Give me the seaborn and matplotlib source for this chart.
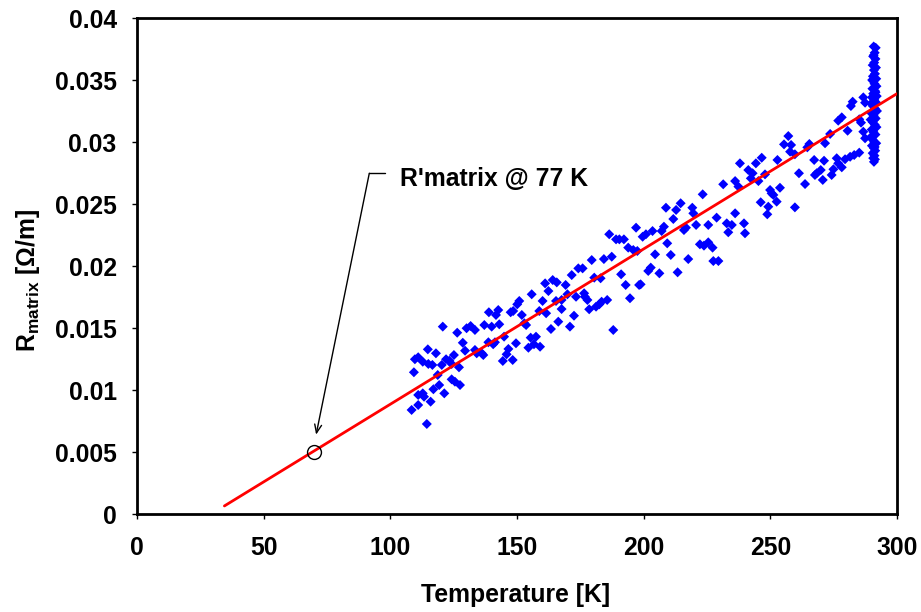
import matplotlib
matplotlib.use("Agg")
import matplotlib.pyplot as plt
import seaborn as sns
import pandas as pd

# ---- data (temperature [K], R_matrix [Ohm/m]) ----
band_108_135 = [
    (120.7, 0.01511), (126.4, 0.01462), (130.1, 0.01498), (131.7, 0.01516), (133.4, 0.01484),
    (128.6, 0.01381), (114.8, 0.01328), (118.0, 0.01296), (129.5, 0.01317), (133.4, 0.01323),
    (134.1, 0.01296), (125.1, 0.01282), (109.7, 0.01248), (111.0, 0.01264), (112.8, 0.01228),
    (115.0, 0.01210), (116.6, 0.01202), (120.3, 0.01202), (122.0, 0.01248), (123.3, 0.01236),
    (124.2, 0.01210), (127.1, 0.01183), (109.3, 0.01143), (118.7, 0.01121), (124.2, 0.01086),
    (125.5, 0.01067), (127.5, 0.01040), (119.3, 0.01040), (117.0, 0.01006), (121.3, 0.00973),
    (111.0, 0.00960), (112.8, 0.00973), (113.3, 0.00946), (115.9, 0.00906), (111.0, 0.00879),
    (108.4, 0.00839), (114.4, 0.00726),
]
band_135_167 = [
    (161.1, 0.01860), (164.1, 0.01887), (165.7, 0.01868), (162.4, 0.01798), (155.8, 0.01772),
    (150.9, 0.01718), (150.1, 0.01691), (160.1, 0.01718), (165.4, 0.01718), (142.6, 0.01645),
    (141.7, 0.01605), (138.9, 0.01627), (147.5, 0.01627), (148.5, 0.01637), (151.9, 0.01605),
    (158.8, 0.01637), (161.5, 0.01619), (137.1, 0.01524), (140.0, 0.01511), (143.0, 0.01530),
    (152.9, 0.01538), (153.6, 0.01524), (166.3, 0.01551), (163.4, 0.01492), (144.9, 0.01430),
    (155.4, 0.01422), (157.5, 0.01430), (138.7, 0.01385), (140.6, 0.01369), (141.3, 0.01385),
    (149.6, 0.01377), (156.7, 0.01369), (154.5, 0.01341), (159.1, 0.01349), (136.1, 0.01296),
    (136.7, 0.01282), (146.6, 0.01331), (145.9, 0.01288), (144.4, 0.01234), (148.3, 0.01242),
]
band_167_198 = [
    (186.4, 0.02256), (197.0, 0.02309), (189.1, 0.02215), (190.4, 0.02215), (192.2, 0.02215),
    (193.9, 0.02148), (195.9, 0.02129), (197.5, 0.02121), (179.5, 0.02048), (184.3, 0.02056),
    (187.4, 0.02075), (174.2, 0.01981), (175.9, 0.01981), (171.6, 0.01927), (180.5, 0.01906),
    (183.0, 0.01901), (191.1, 0.01933), (169.2, 0.01847), (192.9, 0.01847), (198.2, 0.01847),
    (169.9, 0.01772), (173.3, 0.01752), (176.5, 0.01780), (176.8, 0.01752), (177.8, 0.01726),
    (194.6, 0.01740), (167.6, 0.01726), (185.6, 0.01726), (183.4, 0.01712), (182.5, 0.01691),
    (181.2, 0.01672), (167.6, 0.01653), (178.5, 0.01651), (172.5, 0.01599), (170.9, 0.01511),
    (188.0, 0.01484),
]
band_198_230 = [
    (223.3, 0.02578), (214.6, 0.02506), (208.8, 0.02470), (212.8, 0.02452), (219.2, 0.02470),
    (219.6, 0.02425), (211.7, 0.02379), (228.8, 0.02390), (220.7, 0.02331), (225.5, 0.02331),
    (208.0, 0.02317), (207.1, 0.02282), (203.5, 0.02282), (216.7, 0.02309), (215.9, 0.02290),
    (200.9, 0.02256), (199.6, 0.02236), (209.3, 0.02183), (222.2, 0.02175), (223.8, 0.02164),
    (225.5, 0.02191), (227.2, 0.02148), (204.5, 0.02094), (210.7, 0.02089), (217.6, 0.02056),
    (227.5, 0.02040), (229.5, 0.02040), (202.8, 0.01987), (201.8, 0.01960), (206.2, 0.01941),
    (213.4, 0.01949), (198.8, 0.01852),
]
band_230_262 = [
    (257.1, 0.03048), (255.4, 0.02981), (258.2, 0.02976), (257.8, 0.02922), (259.7, 0.02901),
    (246.6, 0.02873), (252.8, 0.02855), (238.0, 0.02828), (244.3, 0.02828), (241.3, 0.02774),
    (243.0, 0.02748), (247.9, 0.02739), (261.3, 0.02748), (242.3, 0.02707), (245.3, 0.02685),
    (236.1, 0.02685), (231.4, 0.02659), (237.4, 0.02640), (253.8, 0.02631), (249.9, 0.02613),
    (250.5, 0.02586), (251.2, 0.02573), (252.5, 0.02519), (246.2, 0.02514), (249.2, 0.02478),
    (248.8, 0.02417), (259.7, 0.02473), (236.1, 0.02425), (232.8, 0.02344), (234.8, 0.02331),
    (239.6, 0.02344), (233.4, 0.02272), (240.0, 0.02264),
]
band_262_288 = [
    (286.7, 0.03360), (287.4, 0.03317), (282.5, 0.03325), (281.8, 0.03290), (278.2, 0.03199),
    (276.8, 0.03172), (285.1, 0.03183), (285.8, 0.03156), (280.5, 0.03091), (273.6, 0.03065),
    (265.4, 0.02984), (264.6, 0.02957), (271.6, 0.02990), (286.7, 0.03083), (287.4, 0.03030),
    (267.3, 0.02855), (271.2, 0.02849), (276.2, 0.02869), (276.8, 0.02828), (279.5, 0.02861),
    (281.5, 0.02881), (283.1, 0.02895), (285.1, 0.02914), (269.9, 0.02774), (268.3, 0.02748),
    (267.6, 0.02734), (274.9, 0.02780), (274.2, 0.02734), (278.2, 0.02796), (263.7, 0.02661),
    (270.7, 0.02694),
]
room_temp_cluster = [
    (290.8, 0.0377), (291.6, 0.0376), (291.2, 0.0372), (290.6, 0.0369), (291.5, 0.0367),
    (291.0, 0.0364), (290.4, 0.0362), (291.7, 0.0360), (290.9, 0.0358), (291.3, 0.0355),
    (290.5, 0.0353), (291.8, 0.0351), (290.7, 0.0349), (291.1, 0.0347), (291.9, 0.0345),
    (290.3, 0.0343), (291.4, 0.0341), (290.6, 0.0339), (292.0, 0.0337), (290.1, 0.0336),
    (291.0, 0.0334), (291.7, 0.0332), (289.8, 0.0331), (290.5, 0.0329), (291.3, 0.0327),
    (292.1, 0.0325), (290.0, 0.0323), (290.8, 0.0321), (291.6, 0.0319), (289.6, 0.0318),
    (290.4, 0.0316), (291.2, 0.0314), (291.9, 0.0312), (290.0, 0.0310), (290.7, 0.0308),
    (291.5, 0.0306), (289.7, 0.0304), (290.3, 0.0302), (291.0, 0.0300), (291.8, 0.0299),
    (290.1, 0.0297), (290.9, 0.0295), (291.4, 0.0293), (290.4, 0.0291), (291.1, 0.0289),
    (290.6, 0.0287), (291.3, 0.0286), (290.9, 0.0284), (291.0, 0.0330), (290.2, 0.0350),
    (291.5, 0.0340), (290.6, 0.0310), (291.2, 0.0296), (290.8, 0.0370), (291.0, 0.0318),
]

fit_T = [34.5, 300.0]
fit_R = [0.00065, 0.0339]

marker_T = [70.0]
marker_R = [0.00502]

annotation_text = "R'matrix @ 77 K"
x_ticks = [0, 50, 100, 150, 200, 250, 300]
x_ticklabels = ["0", "50", "100", "150", "200", "250", "300"]
y_ticks = [0, 0.005, 0.01, 0.015, 0.02, 0.025, 0.03, 0.035, 0.04]
y_ticklabels = ["0", "0.005", "0.01", "0.015", "0.02", "0.025", "0.03", "0.035", "0.04"]

# ---- style ----
sns.set_style("white")
plt.rcParams["font.family"] = ["Liberation Sans", "DejaVu Sans"]
plt.rcParams["font.weight"] = "bold"
plt.rcParams["text.color"] = "black"
plt.rcParams["mathtext.fontset"] = "custom"
plt.rcParams["mathtext.rm"] = "Liberation Sans:bold"
plt.rcParams["mathtext.bf"] = "Liberation Sans:bold"
plt.rcParams["mathtext.it"] = "Liberation Sans:bold"

FS = 17.8

fig = plt.figure(figsize=(9.21, 6.12), dpi=100)
ax = fig.add_axes([137 / 921, 98 / 612, 760 / 921, 496 / 612])

all_points = (band_108_135 + band_135_167 + band_167_198 + band_198_230
              + band_230_262 + band_262_288 + room_temp_cluster)
df = pd.DataFrame(all_points, columns=["T", "R"])

sns.scatterplot(data=df, x="T", y="R", marker="D", s=26, color="#0000ff",
                edgecolor="none", linewidth=0, ax=ax, zorder=3)
sns.lineplot(x=fit_T, y=fit_R, color="#ff0000", linewidth=2, ax=ax, zorder=4)
ax.plot(marker_T, marker_R, marker="o", linestyle="none", markerfacecolor="none",
        markeredgecolor="black", markersize=10, markeredgewidth=1, zorder=5)

# annotation leader
ax.plot([97.9, 91.7], [0.02748, 0.02748], color="black", linewidth=1, zorder=5)
ax.annotate("", xy=(70.7, 0.0064), xytext=(91.7, 0.02748),
            arrowprops=dict(arrowstyle="->,head_length=0.6,head_width=0.25",
                            color="black", linewidth=1, shrinkA=0, shrinkB=0))
ax.text(103.8, 0.02702, annotation_text, fontsize=FS, fontweight="bold",
        ha="left", va="center", color="black")

ax.set_xlim(0, 300)
ax.set_ylim(0, 0.04)
ax.set_xticks(x_ticks)
ax.set_xticklabels(x_ticklabels)
ax.set_yticks(y_ticks)
ax.set_yticklabels(y_ticklabels)
ax.set_xlabel("")
ax.set_ylabel("")

ax.tick_params(axis="both", which="major", direction="out", length=3.6, width=1,
               color="black", labelsize=FS, labelcolor="black", bottom=True, left=True,
               top=False, right=False)
ax.tick_params(axis="x", pad=12)
ax.tick_params(axis="y", pad=11)
for lab in ax.get_xticklabels() + ax.get_yticklabels():
    lab.set_fontweight("bold")

for sp in ax.spines.values():
    sp.set_visible(True)
    sp.set_color("black")
    sp.set_linewidth(2)

fig.text(516 / 921, 1 - 595 / 612, "Temperature [K]", fontsize=FS, fontweight="bold",
         ha="center", va="center", color="black")
fig.text(28 / 921, 1 - 280 / 612, r"R$_{\mathbf{matrix}}$ [Ω/m]", fontsize=FS,
         fontweight="bold", rotation=90, ha="center", va="center", color="black")

if ax.get_legend() is not None:
    ax.get_legend().remove()

fig.savefig("out.png", dpi=100)
